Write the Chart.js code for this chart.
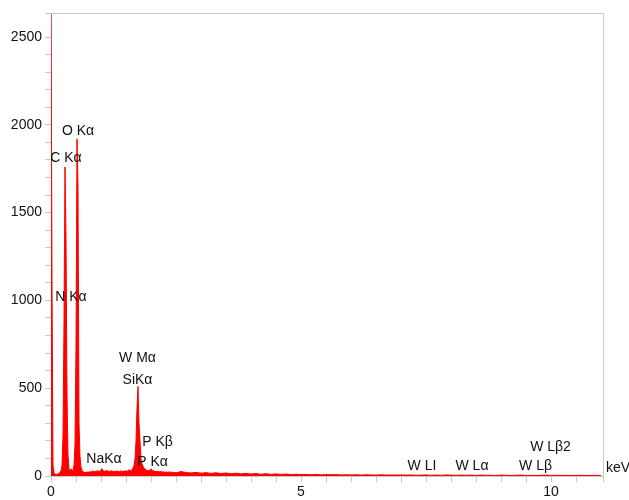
<!DOCTYPE html>
<html>
<head>
<meta charset="UTF-8">
<title>EDS spectrum</title>
<script src="https://cdn.jsdelivr.net/npm/chart.js"></script>
<style>
  body { margin: 0; background: #fff; }
  #spectrum { display: block; }
</style>
</head>
<body>
<canvas id="spectrum" width="629" height="500"></canvas>
<script>
// low-energy region, 0.02 keV per channel starting at 0 keV
const lowStep = 0.02;
const lowCounts = [
  2700, 1100, 60, 20, 10, 8, 10, 12, 15, 20,
  30, 60, 230, 880, 1760, 1360, 460, 120, 40, 30,
  40, 35, 30, 60, 180, 740, 1920, 1650, 300, 110,
  50, 30, 25, 22, 18, 20, 24, 19, 22, 26,
  21, 25, 30, 24, 28, 22, 32, 26, 30, 24,
  35, 42, 30, 28, 24, 33, 27, 30, 25, 29,
  26, 31, 24, 28, 22, 30, 25, 27, 23, 29,
  26, 30, 24, 28, 27, 32, 26, 31, 35, 30,
  30, 35, 45, 60, 100, 200, 390, 510, 300, 200,
  100, 70, 55, 45, 40, 35, 30, 32, 28, 34,
  40, 36, 30, 28, 26, 25, 24, 27, 22, 26,
  23, 25, 21, 24, 20, 23, 22, 20, 24, 21
];
// tail, 0.1 keV per channel starting at 2.4 keV
const tailStart = 2.4;
const tailStep = 0.1;
const tailCounts = [
  22, 18, 25, 20, 17, 21, 16,
  19, 15, 18, 14, 17, 13, 16, 12, 15, 11,
  14, 10, 13, 9, 12, 9, 11, 8, 10, 8,
  9, 7, 9, 6, 8, 7, 8, 6, 7, 6,
  7, 5, 7, 6, 5, 7, 5, 6, 5, 6,
  5, 6, 4, 5, 6, 4, 5, 4, 6, 5,
  4, 5, 4, 5, 3, 5, 4, 4, 3, 5,
  4, 3, 4, 5, 3, 4, 3, 4, 5, 3,
  4, 3, 4, 3, 3, 4, 3, 3, 4, 3
];

// peak labels: text, keV, counts (centre of text)
const peakNames = ['O K\u03b1', 'C K\u03b1', 'N K\u03b1', 'W M\u03b1', 'SiK\u03b1', 'P K\u03b2', 'P K\u03b1', 'NaK\u03b1', 'W LI', 'W L\u03b1', 'W L\u03b2', 'W L\u03b22'];
const peakKeV   = [0.54, 0.30, 0.40, 1.73, 1.73, 2.13, 2.03, 1.06, 7.42, 8.42, 9.69, 9.99];
const peakAt    = [1965, 1811, 1019, 672, 547, 194, 80, 97, 57, 57, 57, 165];

const xTickLabels = [0, 5, 10];
const yTickLabels = [0, 500, 1000, 1500, 2000, 2500];

const points = [];
lowCounts.forEach((c, i) => points.push({ x: i * lowStep, y: c }));
tailCounts.forEach((c, i) => points.push({ x: tailStart + i * tailStep, y: c }));

const font = { family: '"Liberation Sans", Arial, sans-serif', size: 14 };
const axisGrey = '#c8c8c8';

const peakLabels = {
  id: 'peakLabels',
  afterDatasetsDraw(chart) {
    const { ctx, chartArea, scales } = chart;
    ctx.save();
    // frame on top and right
    ctx.strokeStyle = axisGrey;
    ctx.lineWidth = 1;
    ctx.beginPath();
    ctx.moveTo(chartArea.left, chartArea.top + 0.5);
    ctx.lineTo(chartArea.right + 0.5, chartArea.top + 0.5);
    ctx.lineTo(chartArea.right + 0.5, chartArea.bottom);
    ctx.stroke();

    ctx.fillStyle = '#111';
    ctx.font = '14px "Liberation Sans", Arial, sans-serif';
    ctx.textAlign = 'center';
    ctx.textBaseline = 'middle';
    peakNames.forEach((t, i) => {
      ctx.fillText(t, scales.x.getPixelForValue(peakKeV[i]), scales.y.getPixelForValue(peakAt[i]));
    });
    ctx.textAlign = 'left';
    ctx.fillText('keV', chartArea.right + 3, chartArea.bottom - 8);
    ctx.restore();
  }
};

new Chart(document.getElementById('spectrum'), {
  type: 'line',
  data: {
    datasets: [{
      data: points,
      borderColor: '#ff0000',
      backgroundColor: '#ff0000',
      borderWidth: 1,
      pointRadius: 0,
      tension: 0,
      fill: 'origin'
    }]
  },
  options: {
    responsive: false,
    animation: false,
    layout: { padding: { top: 13, right: 26, left: 0, bottom: 0 } },
    plugins: { legend: { display: false }, tooltip: { enabled: false } },
    scales: {
      x: {
        type: 'linear',
        min: 0,
        max: 11.04,
        afterFit: s => { s.height = 24; },
        border: { color: axisGrey },
        grid: { drawOnChartArea: false, color: axisGrey, tickLength: 6 },
        ticks: {
          stepSize: 0.5,
          autoSkip: false,
          maxRotation: 0,
          color: '#111',
          font: font,
          padding: 2,
          callback: v => xTickLabels.includes(v) ? String(v) : ''
        }
      },
      y: {
        min: 0,
        max: 2637,
        afterFit: s => { s.width = 51; },
        border: { color: axisGrey },
        grid: { drawOnChartArea: false, color: axisGrey, tickLength: 6 },
        ticks: {
          stepSize: 100,
          autoSkip: false,
          color: '#111',
          font: font,
          padding: 3,
          callback: v => yTickLabels.includes(v) ? String(v) : ''
        }
      }
    }
  },
  plugins: [peakLabels]
});
</script>
</body>
</html>
